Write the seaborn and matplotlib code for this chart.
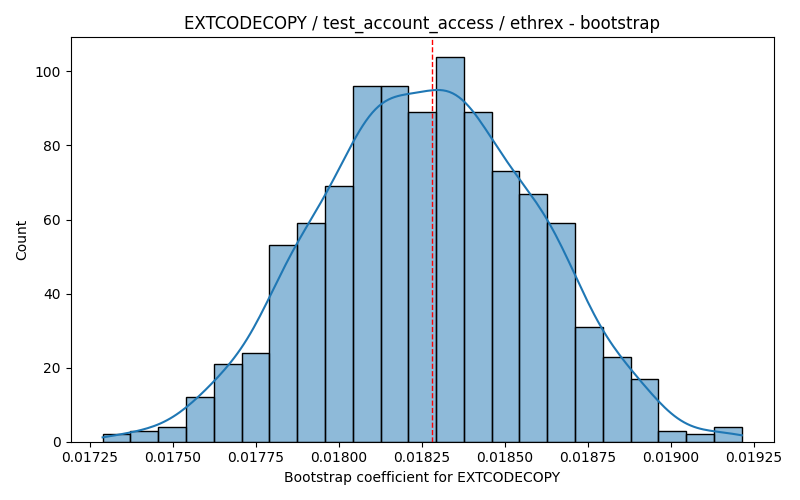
import numpy as np
import pandas as pd
import seaborn as sns
import matplotlib
matplotlib.use("Agg")
import matplotlib.pyplot as plt

# bootstrap histogram: 23 bins, counts sum to 1000
bin_left = 0.017288
bin_right = 0.019213
counts = [2, 3, 4, 12, 21, 24, 53, 59, 69, 96, 96, 89,
          104, 89, 73, 67, 59, 31, 23, 17, 3, 2, 4]
point_estimate = 0.018281
title = "EXTCODECOPY / test_account_access / ethrex - bootstrap"
xlabel = "Bootstrap coefficient for EXTCODECOPY"

edges = np.linspace(bin_left, bin_right, len(counts) + 1)
centers = (edges[:-1] + edges[1:]) / 2
df = pd.DataFrame({"coef": centers, "n": counts})

# kde bandwidth as if fitted on the 1000 raw samples
n_total = sum(counts)
neff = n_total ** 2 / np.sum(np.square(counts))
bw_adj = (n_total / neff) ** (-0.2)

fig, ax = plt.subplots(figsize=(8, 5), dpi=100)
sns.histplot(data=df, x="coef", weights="n", bins=list(edges), kde=True,
             kde_kws={"bw_adjust": bw_adj, "cut": 3,
                      "clip": (bin_left, bin_right)}, ax=ax)
ax.axvline(point_estimate, color="red", linestyle="--", linewidth=1)
ax.set_title(title)
ax.set_xlabel(xlabel)
ax.set_ylabel("Count")
plt.tight_layout()
plt.savefig("out.png")
